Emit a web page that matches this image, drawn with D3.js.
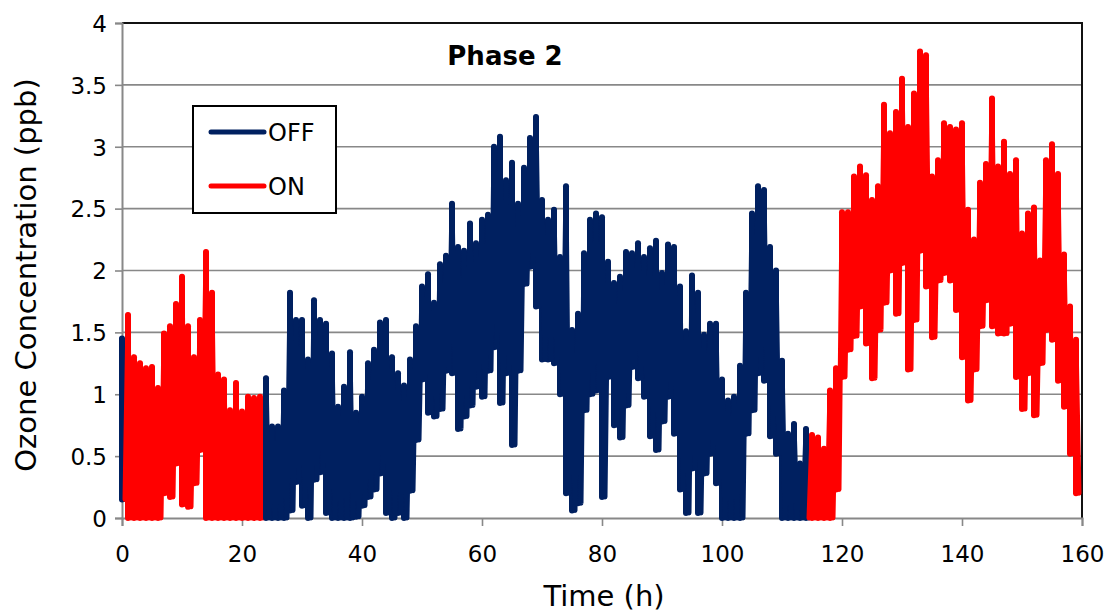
<!DOCTYPE html>
<html>
<head>
<meta charset="utf-8">
<script src="https://cdnjs.cloudflare.com/ajax/libs/d3/7.8.5/d3.min.js"></script>
<style>
    body { margin: 0; background: #fff; }
    text { font-family: "DejaVu Sans", sans-serif; fill: #000; }
</style>
</head>
<body>
<div id="chart"></div>
<script>
// hourly readings: local high at t = h, local low at t = h + 0.5 (ppb)
var peak = [
    1.45,1.64,1.30,1.25,1.21,1.22,1.05,1.49,1.55,1.73,
    1.95,1.55,1.30,1.60,2.15,1.82,1.16,1.12,0.87,1.09,
    0.86,0.98,0.97,0.98,1.13,0.74,0.74,1.03,1.82,1.60,
    1.60,1.28,1.76,1.60,1.57,1.33,0.90,1.06,1.34,0.85,
    0.98,1.25,1.36,1.58,1.60,1.30,1.17,1.07,1.28,1.55,
    1.87,1.97,1.74,2.05,2.12,2.54,2.19,2.16,2.38,2.22,
    2.41,2.45,3.00,3.08,2.73,2.87,2.54,2.83,3.07,3.24,
    2.57,2.41,2.49,2.11,2.68,1.52,1.65,2.14,2.41,2.46,
    2.43,2.07,1.90,1.95,2.15,2.14,2.22,2.11,2.18,2.24,
    1.98,2.21,2.19,1.87,1.51,1.96,1.82,1.48,1.57,1.57,
    1.12,0.95,0.98,1.23,1.82,2.46,2.68,2.65,2.19,2.00,
    1.27,0.68,0.76,0.44,0.72,0.67,0.65,0.56,1.03,1.21,
    2.47,2.47,2.76,2.84,2.77,2.57,2.68,3.34,3.11,3.28,
    3.55,3.16,3.43,3.77,3.74,2.76,2.89,3.19,3.16,3.14,
    3.19,2.49,2.25,2.71,2.86,3.39,2.84,3.04,2.78,2.89,
    2.30,2.46,2.51,2.08,2.89,3.02,2.78,2.13,1.71,1.44
];
var dip = [
    0.15,0,0,0,0,0,0,0.20,0.17,0.44,
    0.11,0.09,0.28,0.55,0,0,0,0,0,0,
    0,0,0,0,0,0,0,0,0.06,0.29,
    0.10,0,0.31,0.37,0.04,0,0,0,0,0.01,
    0.10,0.17,0.23,0.36,0.04,0,0.04,0,0.22,0.63,
    1.12,0.85,0.82,0.88,1.19,1.17,0.72,0.82,0.91,1.06,
    0.98,1.19,1.38,0.93,1.17,0.59,1.19,1.89,2.03,1.71,
    1.28,1.28,1.25,1.00,0.20,0.06,0.12,0.87,1.00,1.03,
    0.17,1.14,0.75,0.65,0.91,1.22,1.13,0.98,0.66,0.55,
    0.78,0.98,0.68,0.23,0.04,0.40,0.04,0.36,0.52,0.28,
    0,0,0,0,0.68,0.87,1.17,1.11,0.66,0.52,
    0,0,0,0,0,0,0,0,0,0.23,
    1.14,1.36,1.47,1.71,1.41,1.13,1.52,1.74,2.00,1.65,
    2.06,1.20,1.60,2.16,1.87,1.46,1.92,1.98,1.92,1.68,
    1.30,0.95,1.20,1.55,1.76,1.55,1.49,1.49,1.57,1.14,
    0.88,1.17,0.83,1.25,1.52,1.44,1.11,0.90,0.52,0.20
];
// periods with the device ON (h)
var onPeriods = [[0.5, 24], [114.5, 160]];
var xTicks = [0, 20, 40, 60, 80, 100, 120, 140, 160];
var yTicks = [0, 0.5, 1, 1.5, 2, 2.5, 3, 3.5, 4];
var seriesNames = ['OFF', 'ON'];
var seriesColors = ['#002060', '#ff0000'];

var W = 1109, H = 614;
var margin = {top: 23, right: 27, bottom: 96, left: 122},
    width = W - margin.left - margin.right,
    height = H - margin.top - margin.bottom;

var svg = d3.select('#chart').append('svg')
    .attr('width', W)
    .attr('height', H);
var g = svg.append('g')
    .attr('transform', 'translate(' + margin.left + ',' + margin.top + ')');

var x = d3.scaleLinear().domain([0, 160]).range([0, width]);
var y = d3.scaleLinear().domain([0, 4]).range([height, 0]);

// gridlines
g.selectAll('.grid')
    .data(yTicks.slice(1))
    .enter().append('line')
    .attr('class', 'grid')
    .attr('x1', 0).attr('x2', width)
    .attr('y1', function (d) { return y(d); })
    .attr('y2', function (d) { return y(d); })
    .style('stroke', '#888')
    .style('stroke-width', 1.6);

// plot frame (top / right)
g.append('path')
    .attr('d', 'M0,' + y(4) + 'H' + width + 'V' + height)
    .style('fill', 'none')
    .style('stroke', '#111')
    .style('stroke-width', 2);

// axes
var yAxis = g.append('g')
    .call(d3.axisLeft(y).tickValues(yTicks).tickSize(7).tickPadding(8)
        .tickFormat(function (d) { return d; }));
var xAxis = g.append('g')
    .attr('transform', 'translate(0,' + height + ')')
    .call(d3.axisBottom(x).tickValues(xTicks).tickSize(8).tickPadding(20));
[xAxis, yAxis].forEach(function (a) {
    a.select('.domain').style('stroke', '#888').style('stroke-width', 2);
    a.selectAll('.tick line').style('stroke', '#888').style('stroke-width', 1.6);
    a.selectAll('.tick text').style('font-size', '23px').style('fill', '#000');
});
yAxis.selectAll('.tick text').attr('dy', '0.36em');

// build samples and split them into OFF / ON stretches
var points = [];
peak.forEach(function (v, i) {
    points.push({t: i, v: v});
    points.push({t: i + 0.5, v: dip[i]});
});
var bounds = [0];
onPeriods.forEach(function (p) { bounds.push(p[0], p[1]); });
bounds.push(160);
bounds = Array.from(new Set(bounds)).sort(function (a, b) { return a - b; });

function isOn(t) {
    return onPeriods.some(function (p) { return t >= p[0] && t < p[1]; });
}
var segments = [];
for (var k = 0; k < bounds.length - 1; k++) {
    var a = bounds[k], b = bounds[k + 1];
    var pts = points.filter(function (p) { return p.t >= a && p.t <= b; });
    var bars = [];
    peak.forEach(function (v, i) {
        if (i >= a && i < b) bars.push({t: i, hi: v, lo: dip[i]});
    });
    if (pts.length > 1) segments.push({on: isOn((a + b) / 2), pts: pts, bars: bars});
}

var line = d3.line()
    .x(function (d) { return x(d.t); })
    .y(function (d) { return y(d.v); });

var seg = g.selectAll('.series')
    .data(segments)
    .enter().append('g')
    .attr('class', 'series')
    .style('stroke', function (d) { return seriesColors[d.on ? 1 : 0]; })
    .style('stroke-linejoin', 'round')
    .style('stroke-linecap', 'round');
// hourly low-to-high strokes stand in for the dense minute readings
seg.selectAll('line')
    .data(function (d) { return d.bars; })
    .enter().append('line')
    .attr('x1', function (d) { return x(d.t); })
    .attr('x2', function (d) { return x(d.t); })
    .attr('y1', function (d) { return y(d.lo); })
    .attr('y2', function (d) { return y(d.hi); })
    .style('stroke-width', 6);
seg.append('path')
    .attr('d', function (d) { return line(d.pts); })
    .style('fill', 'none')
    .style('stroke-width', 5);

// title inside plot
g.append('text')
    .attr('x', 383)
    .attr('y', 42)
    .attr('text-anchor', 'middle')
    .style('font-size', '26px')
    .style('font-weight', 'bold')
    .text('Phase 2');

// legend
var legend = svg.append('g').attr('transform', 'translate(193,106)');
legend.append('rect')
    .attr('width', 143).attr('height', 107)
    .style('fill', '#fff')
    .style('stroke', '#000')
    .style('stroke-width', 2);
seriesNames.forEach(function (name, i) {
    var ly = 26 + i * 54;
    legend.append('line')
        .attr('x1', 18).attr('x2', 71)
        .attr('y1', ly).attr('y2', ly)
        .style('stroke', seriesColors[i])
        .style('stroke-width', 5)
        .style('stroke-linecap', 'round');
    legend.append('text')
        .attr('x', 75).attr('y', ly)
        .attr('dy', '0.36em')
        .style('font-size', '24px')
        .text(name);
});

// axis titles
svg.append('text')
    .attr('x', 604)
    .attr('y', 606)
    .attr('text-anchor', 'middle')
    .style('font-size', '29px')
    .text('Time (h)');
svg.append('text')
    .attr('transform', 'translate(36,275) rotate(-90)')
    .attr('text-anchor', 'middle')
    .style('font-size', '29px')
    .text('Ozone Concentration (ppb)');
</script>
</body>
</html>
